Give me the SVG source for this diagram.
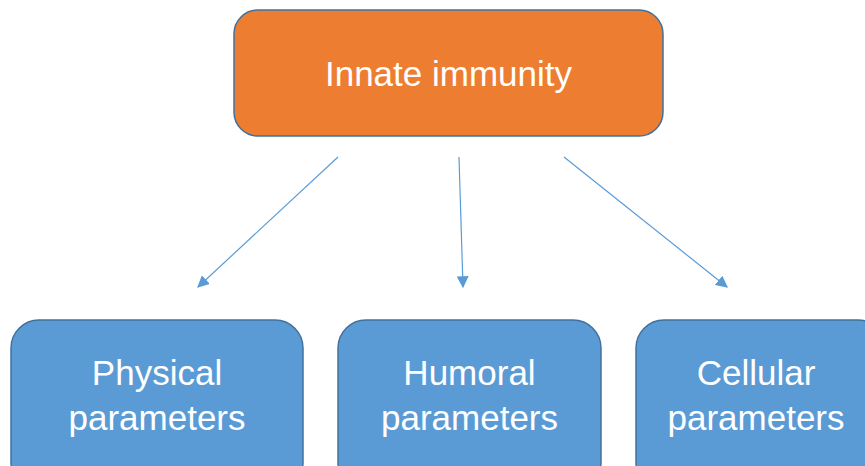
<svg xmlns="http://www.w3.org/2000/svg" width="865" height="466" viewBox="0 0 865 466">
<style>
.top{fill:#ED7D31;stroke:#41719C;stroke-width:1.5}
.box{fill:#5B9BD5;stroke:#41719C;stroke-width:1.5}
.t{font-family:"Liberation Sans",Arial,sans-serif;font-size:35px;fill:#FFFFFF;text-anchor:middle}
.c{stroke:#5B9BD5;stroke-width:1.2;fill:none}
</style>
<defs>
<marker id="ah" viewBox="0 0 10 10" refX="9" refY="5" markerWidth="12" markerHeight="12" markerUnits="userSpaceOnUse" orient="auto">
<path d="M0,0 L10,5 L0,10 Z" fill="#5B9BD5"/>
</marker>
</defs>
<rect width="865" height="466" fill="#FFFFFF"/>
<g id="innate">
<rect class="top" x="234" y="10" width="429" height="126" rx="24" ry="24"/>
<text class="t" x="448.5" y="86" font-size="36">Innate immunity</text>
</g>
<g id="physical">
<rect class="box" x="11" y="320" width="292" height="170" rx="28" ry="28"/>
<text class="t" x="157" y="385">Physical</text>
<text class="t" x="157" y="430">parameters</text>
</g>
<g id="humoral">
<rect class="box" x="338" y="320" width="263" height="170" rx="28" ry="28"/>
<text class="t" x="469.5" y="385">Humoral</text>
<text class="t" x="469.5" y="430">parameters</text>
</g>
<g id="cellular">
<rect class="box" x="636" y="320" width="250" height="170" rx="28" ry="28"/>
<text class="t" x="756" y="385">Cellular</text>
<text class="t" x="756" y="430">parameters</text>
</g>
<g id="connectors">
<line class="c" x1="338" y1="157" x2="198" y2="287" marker-end="url(#ah)"/>
<line class="c" x1="459" y1="157" x2="463" y2="287" marker-end="url(#ah)"/>
<line class="c" x1="564" y1="157" x2="727" y2="287" marker-end="url(#ah)"/>
</g>
</svg>
